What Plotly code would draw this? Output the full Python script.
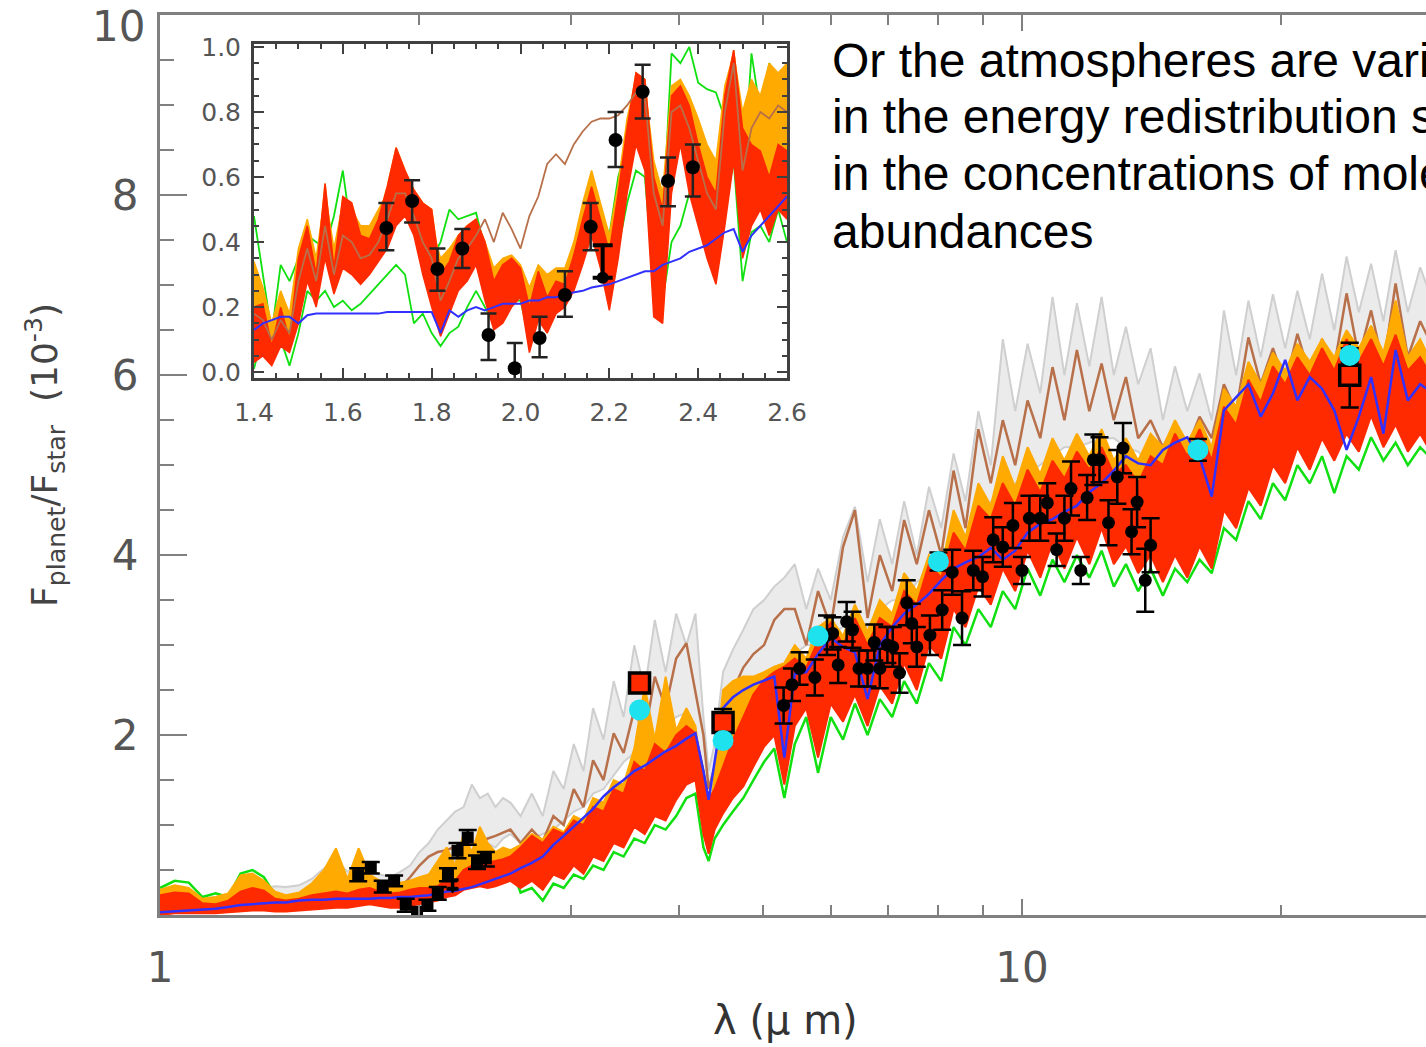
import plotly.graph_objects as go

# ---------------- main panel: model spectra (units of 1e-3) ----------------
wl = [1.00, 1.04, 1.08, 1.12, 1.16, 1.20, 1.24, 1.28, 1.32, 1.36,
      1.40, 1.45, 1.50, 1.55, 1.60, 1.65, 1.70, 1.75, 1.80, 1.85,
      1.90, 1.95, 2.00, 2.05, 2.10, 2.15, 2.20, 2.25, 2.30, 2.35,
      2.40, 2.45, 2.50, 2.55,
      2.62, 2.70, 2.78, 2.86, 2.94, 3.02, 3.10, 3.18, 3.27, 3.36,
      3.45, 3.55, 3.65, 3.75, 3.86, 3.97, 4.08, 4.18, 4.27, 4.33,
      4.40, 4.50, 4.62, 4.75, 4.88, 5.02, 5.16, 5.30,
      5.45, 5.62, 5.80, 6.00, 6.20, 6.40, 6.62, 6.84, 7.07, 7.30,
      7.55, 7.80, 8.06, 8.33, 8.60, 8.90, 9.20, 9.50, 9.82, 10.15,
      10.50, 10.85, 11.20, 11.58, 11.97, 12.37, 12.78, 13.20, 13.64, 14.10,
      14.57, 15.05, 15.55, 16.07, 16.60, 17.15, 17.72, 18.31, 18.92, 19.55,
      20.20, 20.87, 21.57, 22.29, 23.03, 23.80, 24.59, 25.41, 26.26, 27.13,
      28.03, 28.97, 30.00]

gray_hi = [0.20, 0.26, 0.24, 0.18, 0.20, 0.22, 0.30, 0.32, 0.30, 0.32,
           0.31, 0.33, 0.40, 0.52, 0.62, 0.48, 0.55, 0.50, 0.45, 0.42,
           0.48, 0.55, 0.70, 0.80, 0.95, 1.05, 1.15, 1.20, 1.45, 1.30,
           1.35, 1.20, 1.30, 1.25,
           1.10, 1.35, 1.10, 1.60, 1.40, 1.90, 1.60, 2.30, 1.95, 2.60,
           2.20, 3.00, 2.50, 3.28, 2.70, 3.35, 3.00, 3.35, 2.20, 1.60,
           1.90, 2.70, 2.95, 3.17, 3.40, 3.50, 3.65, 3.75,
           3.90, 3.40, 3.85, 3.50, 4.20, 4.54, 3.70, 4.40, 3.90, 4.60,
           4.00, 4.76, 4.30, 5.13, 4.60, 5.60, 5.00, 6.40, 5.60, 6.35,
           5.80, 6.87, 6.00, 6.80, 6.10, 6.87, 6.00, 6.54, 5.90, 6.30,
           5.50, 6.10, 5.60, 6.02, 5.50, 6.72, 6.00, 6.83, 6.20, 6.90,
           6.30, 6.94, 6.40, 7.13, 6.50, 7.32, 6.70, 7.24, 6.60, 7.39,
           6.70, 7.20, 6.80]

gray_lo = [0.10, 0.14, 0.12, 0.08, 0.10, 0.12, 0.18, 0.20, 0.18, 0.18,
           0.18, 0.20, 0.22, 0.25, 0.28, 0.26, 0.28, 0.30, 0.28, 0.26,
           0.28, 0.30, 0.35, 0.40, 0.50, 0.55, 0.60, 0.65, 0.70, 0.75,
           0.80, 0.75, 0.85, 0.90,
           0.80, 0.85, 0.90, 0.95, 1.05, 1.15, 1.20, 1.35, 1.40, 1.55,
           1.70, 1.80, 1.95, 2.00, 2.10, 2.20, 2.25, 2.00, 1.60, 1.30,
           1.50, 1.90, 2.10, 2.30, 2.40, 2.50, 2.60, 2.70,
           2.90, 3.00, 3.00, 3.10, 3.20, 3.30, 3.20, 3.40, 3.50, 3.50,
           3.70, 3.80, 3.95, 4.10, 4.20, 4.40, 4.60, 4.70, 4.80, 4.90,
           5.00, 5.10, 5.20, 5.20, 5.25, 5.30, 5.30, 5.20, 5.15, 5.00,
           4.95, 5.00, 5.05, 5.00, 5.10, 5.30, 5.40, 5.50, 5.55, 5.60,
           5.70, 5.75, 5.80, 5.85, 5.90, 5.95, 6.00, 6.00, 6.05, 6.10,
           6.05, 6.00, 5.95]

brown = [0.15, 0.20, 0.18, 0.12, 0.13, 0.16, 0.24, 0.27, 0.24, 0.20,
         0.20, 0.22, 0.25, 0.28, 0.32, 0.28, 0.32, 0.34, 0.30, 0.28,
         0.30, 0.42, 0.55, 0.65, 0.70, 0.72, 0.76, 0.80, 0.78, 0.82,
         0.85, 0.88, 0.92, 0.95,
         0.80, 0.95, 0.82, 1.10, 1.00, 1.40, 1.20, 1.72, 1.50, 2.02,
         1.80, 2.28, 2.00, 2.65, 2.30, 2.85, 3.02, 2.50, 2.00, 1.40,
         1.65, 2.25, 2.50, 2.75, 2.90, 3.00, 3.28, 3.40,
         3.40, 3.00, 3.60, 3.20, 4.09, 4.50, 3.30, 4.00, 3.60, 4.39,
         3.90, 4.50, 4.00, 4.94, 4.30, 5.40, 4.80, 5.50, 5.00, 5.72,
         5.30, 6.09, 5.50, 6.28, 5.60, 6.13, 5.50, 5.98, 5.30, 5.50,
         5.20, 5.45, 5.20, 5.54, 5.30, 5.90, 5.60, 6.42, 5.90, 6.30,
         5.90, 6.46, 6.00, 6.40, 6.10, 6.91, 6.20, 6.72, 6.10, 7.02,
         6.20, 6.60, 6.30]

orange = [0.28, 0.33, 0.30, 0.18, 0.20, 0.24, 0.44, 0.46, 0.38, 0.26,
          0.22, 0.25, 0.35, 0.50, 0.74, 0.40, 0.74, 0.45, 0.38, 0.32,
          0.36, 0.38, 0.42, 0.45, 0.60, 0.75, 0.55, 0.90, 0.70, 0.98,
          0.80, 0.70, 0.75, 0.72,
          0.78, 0.90, 0.84, 0.98, 0.92, 1.10, 1.05, 1.30, 1.25, 1.50,
          1.45, 1.85, 2.54, 1.95, 2.65, 2.05, 2.30, 2.10, 1.40, 0.85,
          1.60, 2.50, 2.60, 2.65, 2.65, 2.70, 2.76, 2.80,
          3.00, 2.85, 3.20, 3.30, 3.10, 3.45, 3.15, 3.50, 3.35, 3.80,
          3.60, 4.00, 3.85, 4.50, 4.20, 4.80, 4.55, 5.10, 4.75, 5.20,
          4.90, 5.30, 5.05, 5.35, 5.10, 5.40, 5.05, 5.30, 5.05, 5.35,
          5.20, 5.50, 5.25, 5.50, 5.20, 5.85, 5.65, 6.15, 5.90, 6.25,
          6.05, 6.35, 6.15, 6.40, 6.20, 6.50, 6.30, 6.55, 6.25, 6.83,
          6.20, 6.40, 6.10]

red_hi = [0.22, 0.25, 0.24, 0.13, 0.12, 0.16, 0.26, 0.30, 0.27, 0.18,
          0.16, 0.18, 0.22, 0.24, 0.26, 0.24, 0.28, 0.30, 0.26, 0.24,
          0.25, 0.28, 0.30, 0.30, 0.32, 0.40, 0.38, 0.50, 0.55, 0.60,
          0.58, 0.60, 0.62, 0.65,
          0.75, 0.88, 0.80, 0.95, 0.90, 1.05, 1.00, 1.20, 1.15, 1.40,
          1.35, 1.70, 1.60, 1.90, 1.80, 2.00, 2.10, 2.02, 1.60, 1.28,
          1.40, 1.65, 1.95, 2.20, 2.45, 2.61, 2.70, 2.76,
          2.85, 2.75, 3.05, 3.25, 3.00, 3.30, 3.00, 3.30, 3.20, 3.60,
          3.45, 3.90, 3.75, 4.25, 4.05, 4.55, 4.40, 4.80, 4.55, 4.95,
          4.70, 5.05, 4.85, 5.15, 4.95, 5.20, 4.90, 5.00, 4.80, 5.10,
          5.00, 5.35, 5.10, 5.40, 5.05, 5.65, 5.45, 5.95, 5.70, 6.10,
          5.90, 6.20, 6.00, 6.30, 6.05, 6.40, 6.15, 6.40, 6.10, 6.45,
          6.05, 6.20, 5.95]

red_lo = [0.00, 0.02, 0.02, 0.02, 0.02, 0.03, 0.04, 0.05, 0.05, 0.04,
          0.04, 0.05, 0.06, 0.07, 0.08, 0.08, 0.10, 0.12, 0.10, 0.08,
          0.08, 0.10, 0.12, 0.14, 0.16, 0.20, 0.22, 0.28, 0.30, 0.32,
          0.30, 0.32, 0.35, 0.38,
          0.30, 0.38, 0.28, 0.45, 0.40, 0.55, 0.46, 0.65, 0.60, 0.80,
          0.75, 0.98, 0.90, 1.10, 1.05, 1.28, 1.45, 1.50, 0.90, 0.68,
          0.95, 1.13, 1.30, 1.43, 1.65, 1.87, 2.00, 1.45,
          2.10, 2.30, 1.75, 2.35, 2.15, 2.45, 2.10, 2.55, 2.35, 2.80,
          2.50, 3.00, 2.85, 3.40, 3.20, 3.65, 3.45, 3.85, 3.60, 4.05,
          3.75, 4.15, 3.85, 4.20, 3.90, 4.30, 3.90, 4.10, 3.80, 4.00,
          3.70, 4.00, 3.75, 4.10, 3.85, 4.50, 4.30, 4.75, 4.55, 5.00,
          4.80, 5.20, 4.95, 5.30, 5.05, 5.35, 5.15, 5.55, 5.20, 5.45,
          5.15, 5.35, 5.10]

green = [0.30, 0.38, 0.36, 0.20, 0.24, 0.20, 0.46, 0.50, 0.42, 0.22,
         0.20, 0.22, 0.26, 0.30, 0.32, 0.28, 0.32, 0.34, 0.30, 0.26,
         0.28, 0.30, 0.32, 0.34, 0.40, 0.48, 0.44, 0.55, 0.52, 0.60,
         0.55, 0.50, 0.52, 0.55,
         0.25, 0.30, 0.16, 0.35, 0.30, 0.45, 0.40, 0.55, 0.50, 0.70,
         0.65, 0.85, 0.80, 1.00, 0.95, 1.10, 1.30, 1.35, 0.75, 0.60,
         0.85, 1.00, 1.15, 1.30, 1.50, 1.70, 1.85, 1.30,
         1.90, 2.20, 1.58, 2.20, 1.95, 2.35, 2.00, 2.40, 2.20, 2.60,
         2.35, 2.80, 2.60, 3.20, 3.00, 3.40, 3.20, 3.60, 3.40, 3.85,
         3.55, 3.95, 3.70, 4.00, 3.75, 4.05, 3.65, 3.90, 3.60, 3.85,
         3.55, 3.85, 3.70, 3.95, 3.80, 4.30, 4.17, 4.60, 4.40, 4.80,
         4.61, 5.00, 4.80, 5.10, 4.69, 5.10, 4.95, 5.31, 5.05, 5.25,
         5.00, 5.20, 5.05]

blue = [0.03, 0.04, 0.05, 0.06, 0.07, 0.09, 0.11, 0.12, 0.13, 0.14,
        0.14, 0.16, 0.17, 0.17, 0.18, 0.18, 0.18, 0.18, 0.19, 0.19,
        0.20, 0.20, 0.21, 0.22, 0.24, 0.26, 0.27, 0.29, 0.31, 0.34,
        0.37, 0.40, 0.43, 0.46,
        0.52, 0.58, 0.65, 0.78, 0.88, 0.98, 1.08, 1.18, 1.32, 1.42,
        1.50, 1.60, 1.66, 1.74, 1.82, 1.88, 1.96, 2.02, 1.60, 1.28,
        1.70, 2.30, 2.42, 2.50, 2.56, 2.61, 2.65, 1.75,
        2.68, 2.70, 2.90, 3.08, 2.98, 2.92, 2.40, 3.00, 3.20, 3.35,
        3.45, 3.57, 3.72, 3.85, 3.92, 3.98, 4.08, 3.95, 4.05, 4.25,
        4.35, 4.40, 4.48, 4.55, 4.70, 4.80, 4.94, 5.10, 5.02, 5.00,
        5.17, 5.25, 5.31, 5.09, 4.65, 5.61, 5.75, 5.90, 5.54, 5.80,
        6.17, 5.72, 5.98, 5.85, 5.61, 5.17, 5.54, 5.98, 5.35, 6.28,
        5.72, 5.90, 5.80]

# ---------------- observations ----------------
# ground-based near-IR photometry / spectrum
nir_wl = [1.698, 1.756, 1.813, 1.869, 1.928, 1.987, 2.043, 2.100,
          2.158, 2.214, 2.275, 2.332, 2.388]
nir_f = [0.443, 0.526, 0.317, 0.380, 0.114, 0.012, 0.105, 0.237,
         0.447, 0.714, 0.862, 0.588, 0.630]
nir_up = [0.077, 0.064, 0.063, 0.060, 0.066, 0.078, 0.065, 0.073,
          0.073, 0.086, 0.083, 0.072, 0.070]
nir_dn = [0.068, 0.066, 0.067, 0.060, 0.077, 0.050, 0.059, 0.067,
          0.072, 0.083, 0.082, 0.078, 0.090]
# upper limit
lim_wl = [2.185]
lim_f = [0.29]
lim_bar = [0.10]

# mid-IR spectrum
irs_wl = [5.29, 5.41, 5.52, 5.75, 5.94, 6.03, 6.12, 6.26, 6.36, 6.47,
          6.62, 6.74, 6.84, 6.98, 7.08, 7.21, 7.35, 7.45, 7.55, 7.82,
          8.08, 8.30, 8.52, 8.78, 9.00, 9.26, 9.50, 9.76, 10.0, 10.2,
          10.5, 10.7, 10.97, 11.2, 11.4, 11.7, 11.9, 12.1, 12.3, 12.6,
          12.9, 13.1, 13.4, 13.6, 13.9, 14.1]
irs_f = [2.33, 2.56, 2.74, 2.64, 3.11, 3.13, 2.78, 3.26, 3.17, 2.74,
         2.74, 3.03, 2.74, 3.00, 2.98, 2.69, 3.47, 3.24, 2.98, 3.11,
         3.39, 3.81, 3.30, 3.83, 3.76, 4.17, 4.09, 4.33, 3.83, 4.41,
         4.41, 4.58, 4.06, 4.41, 4.74, 3.83, 4.64, 5.06, 5.06, 4.36,
         4.87, 5.19, 4.26, 4.59, 3.72, 4.11]
irs_err = [0.20, 0.18, 0.18, 0.20, 0.22, 0.18, 0.20, 0.22, 0.20, 0.20,
           0.20, 0.20, 0.22, 0.20, 0.22, 0.22, 0.25, 0.22, 0.22, 0.22,
           0.22, 0.25, 0.30, 0.22, 0.22, 0.25, 0.22, 0.25, 0.15, 0.25,
           0.25, 0.22, 0.18, 0.25, 0.30, 0.15, 0.25, 0.28, 0.25, 0.25,
           0.30, 0.28, 0.25, 0.28, 0.35, 0.30]

# broadband eclipse depths
phot_wl = [3.6, 4.5, 24.0]
phot_f = [2.58, 2.14, 6.00]
phot_err = [0.10, 0.15, 0.36]

cyan_wl = [3.6, 4.5, 5.8, 8.0, 16.0, 24.0]
cyan_f = [2.28, 1.94, 3.10, 3.93, 5.17, 6.22]
cyan_err = [0.0, 0.0, 0.0, 0.10, 0.12, 0.08]

# ---------------- inset: 1.4-2.6 micron zoom ----------------
iwl = [1.40, 1.42, 1.44, 1.46, 1.48, 1.50, 1.52, 1.54, 1.56, 1.58,
       1.60, 1.62, 1.64, 1.66, 1.68, 1.70, 1.72, 1.74, 1.76, 1.78,
       1.80, 1.82, 1.84, 1.86, 1.88, 1.90, 1.92, 1.94, 1.96, 1.98,
       2.00, 2.02, 2.04, 2.06, 2.08, 2.10, 2.12, 2.14, 2.16, 2.18,
       2.20, 2.22, 2.24, 2.26, 2.28, 2.30, 2.32, 2.34, 2.36, 2.38,
       2.40, 2.42, 2.44, 2.46, 2.48, 2.50, 2.52, 2.54, 2.56, 2.58,
       2.60]
i_red_hi = [0.20, 0.21, 0.08, 0.20, 0.10, 0.35, 0.45, 0.30, 0.58, 0.32,
            0.54, 0.52, 0.42, 0.41, 0.47, 0.57, 0.69, 0.62, 0.56, 0.52,
            0.50, 0.30, 0.34, 0.42, 0.45, 0.47, 0.40, 0.28, 0.33, 0.35,
            0.32, 0.20, 0.31, 0.23, 0.28, 0.27, 0.36, 0.47, 0.57, 0.47,
            0.37, 0.55, 0.75, 0.92, 0.90, 0.60, 0.50, 0.85, 0.88, 0.82,
            0.70, 0.60, 0.55, 0.85, 0.99, 0.75, 0.70, 0.68, 0.60, 0.70,
            0.68]
i_red_lo = [0.03, 0.05, 0.02, 0.08, 0.06, 0.15, 0.28, 0.20, 0.35, 0.24,
            0.32, 0.30, 0.27, 0.30, 0.34, 0.38, 0.45, 0.48, 0.42, 0.30,
            0.20, 0.11, 0.18, 0.25, 0.28, 0.33, 0.22, 0.13, 0.15, 0.20,
            0.23, 0.06, 0.16, 0.12, 0.18, 0.20, 0.25, 0.33, 0.42, 0.32,
            0.19, 0.35, 0.55, 0.70, 0.62, 0.17, 0.15, 0.55, 0.70, 0.55,
            0.45, 0.35, 0.27, 0.45, 0.65, 0.35, 0.45, 0.50, 0.42, 0.50,
            0.47]
i_orange = [0.34, 0.26, 0.15, 0.25, 0.18, 0.38, 0.47, 0.35, 0.55, 0.38,
            0.52, 0.50, 0.45, 0.45, 0.50, 0.55, 0.62, 0.58, 0.52, 0.48,
            0.45, 0.35, 0.38, 0.42, 0.45, 0.46, 0.40, 0.32, 0.35, 0.36,
            0.33, 0.26, 0.33, 0.30, 0.32, 0.32, 0.40, 0.52, 0.62, 0.52,
            0.42, 0.58, 0.78, 0.90, 0.88, 0.65, 0.55, 0.88, 0.90, 0.85,
            0.78, 0.70, 0.65, 0.88, 0.98, 0.80, 0.90, 0.85, 0.95, 0.92,
            0.95]
i_green_hi = [0.48, 0.30, 0.12, 0.33, 0.28, 0.35, 0.42, 0.40, 0.38, 0.48,
              0.62, 0.42, 0.38, 0.38, 0.45, 0.55, 0.63, 0.55, 0.45, 0.42,
              0.35, 0.40, 0.50, 0.47, 0.48, 0.49, 0.38, 0.30, 0.28, 0.30,
              0.27, 0.20, 0.30, 0.27, 0.30, 0.30, 0.38, 0.50, 0.58, 0.50,
              0.42, 0.60, 0.70, 0.78, 0.65, 0.55, 0.45, 0.98, 0.95, 1.00,
              0.89, 0.87, 0.86, 0.78, 0.98, 0.55, 0.98, 0.80, 0.95, 0.90,
              0.80]
i_green_lo = [0.01, 0.12, 0.03, 0.10, 0.02, 0.12, 0.25, 0.22, 0.25, 0.20,
              0.22, 0.19, 0.21, 0.24, 0.27, 0.30, 0.33, 0.30, 0.15, 0.18,
              0.12, 0.08, 0.12, 0.14, 0.20, 0.25, 0.20, 0.15, 0.18, 0.22,
              0.22, 0.10, 0.18, 0.15, 0.20, 0.22, 0.28, 0.36, 0.44, 0.35,
              0.25, 0.38, 0.52, 0.62, 0.60, 0.28, 0.22, 0.40, 0.45, 0.55,
              0.60, 0.55, 0.34, 0.50, 0.65, 0.28, 0.43, 0.45, 0.40, 0.50,
              0.40]
i_brown = [0.18, 0.16, 0.10, 0.16, 0.12, 0.28, 0.38, 0.28, 0.45, 0.30,
           0.42, 0.40, 0.35, 0.36, 0.40, 0.47, 0.55, 0.55, 0.48, 0.40,
           0.35, 0.22, 0.28, 0.35, 0.38, 0.42, 0.47, 0.40, 0.49, 0.44,
           0.38, 0.48, 0.54, 0.64, 0.67, 0.64, 0.70, 0.74, 0.77, 0.78,
           0.78, 0.79, 0.82, 0.86, 0.85, 0.55, 0.45, 0.80, 0.82, 0.75,
           0.65, 0.55, 0.50, 0.80, 0.95, 0.62, 0.75, 0.80, 0.78, 0.82,
           0.80]
i_blue = [0.13, 0.15, 0.16, 0.17, 0.17, 0.15, 0.175, 0.18, 0.18, 0.18,
          0.18, 0.18, 0.18, 0.18, 0.18, 0.185, 0.185, 0.185, 0.185, 0.185,
          0.185, 0.12, 0.19, 0.17, 0.19, 0.20, 0.19, 0.20, 0.21, 0.21,
          0.21, 0.22, 0.22, 0.23, 0.23, 0.24, 0.245, 0.25, 0.26, 0.265,
          0.27, 0.28, 0.29, 0.30, 0.31, 0.31, 0.33, 0.34, 0.35, 0.37,
          0.38, 0.39, 0.41, 0.43, 0.44, 0.37, 0.42, 0.45, 0.48, 0.51,
          0.54]

# ---------------- styling ----------------
C_GRAY = "#cfcfcf"
C_GRAY_FILL = "#ebebeb"
C_BROWN = "#b8704a"
C_ORANGE = "#ffaa00"
C_RED = "#ff2a00"
C_GREEN = "#10e010"
C_BLUE = "#3030ff"
C_CYAN = "#1ee3ef"
AX_MAIN = "#808080"
AX_INSET = "#404040"
TXT = "#555555"
FONT_AX = "DejaVu Sans"

fig = go.Figure()


def line(x, y, color, width, xa="x", ya="y"):
    fig.add_trace(go.Scatter(x=x, y=y, mode="lines", xaxis=xa, yaxis=ya,
                             line=dict(color=color, width=width),
                             hoverinfo="skip", showlegend=False))


def band(x, lo, hi, color, fillcolor, width, xa="x", ya="y"):
    fig.add_trace(go.Scatter(x=x, y=lo, mode="lines", xaxis=xa, yaxis=ya,
                             line=dict(color=color, width=width),
                             hoverinfo="skip", showlegend=False))
    fig.add_trace(go.Scatter(x=x, y=hi, mode="lines", xaxis=xa, yaxis=ya,
                             line=dict(color=color, width=width),
                             fill="tonexty", fillcolor=fillcolor,
                             hoverinfo="skip", showlegend=False))


# main panel models
band(wl, gray_lo, gray_hi, C_GRAY, C_GRAY_FILL, 2)
line(wl, brown, C_BROWN, 2.5)
line(wl, green, C_GREEN, 2.5)
band(wl, red_hi, orange, C_ORANGE, C_ORANGE, 2)
band(wl, red_lo, red_hi, C_RED, C_RED, 2)
line(wl, blue, C_BLUE, 2.5)

# main panel observations
err_style = dict(type="data", color="black", thickness=2.5, width=9)
fig.add_trace(go.Scatter(
    x=irs_wl, y=irs_f, mode="markers", showlegend=False,
    marker=dict(color="black", size=13),
    error_y=dict(array=irs_err, **err_style)))
fig.add_trace(go.Scatter(
    x=nir_wl, y=nir_f, mode="markers", showlegend=False,
    marker=dict(color="black", size=12, symbol="square"),
    error_y=dict(array=nir_up, arrayminus=nir_dn, **err_style)))
fig.add_trace(go.Scatter(
    x=lim_wl, y=lim_f, mode="markers", showlegend=False,
    marker=dict(color="black", size=9, symbol="triangle-down"),
    error_y=dict(array=lim_bar, arrayminus=[0], type="data", color="black",
                 thickness=3.5, width=6)))
fig.add_trace(go.Scatter(
    x=phot_wl, y=phot_f, mode="markers", showlegend=False,
    marker=dict(color=C_RED, size=20, symbol="square",
                line=dict(color="black", width=3.5)),
    error_y=dict(array=phot_err, **err_style)))
fig.add_trace(go.Scatter(
    x=cyan_wl, y=cyan_f, mode="markers", showlegend=False,
    marker=dict(color=C_CYAN, size=21),
    error_y=dict(array=cyan_err, **err_style)))

# inset models
line(iwl, i_green_hi, C_GREEN, 1.8, "x2", "y2")
line(iwl, i_green_lo, C_GREEN, 1.8, "x2", "y2")
band(iwl, i_red_hi, i_orange, C_ORANGE, C_ORANGE, 1.5, "x2", "y2")
band(iwl, i_red_lo, i_red_hi, C_RED, C_RED, 1.5, "x2", "y2")
line(iwl, i_brown, C_BROWN, 1.8, "x2", "y2")
line(iwl, i_blue, C_BLUE, 2, "x2", "y2")

# inset observations
fig.add_trace(go.Scatter(
    x=nir_wl, y=nir_f, mode="markers", xaxis="x2", yaxis="y2", showlegend=False,
    marker=dict(color="black", size=14),
    error_y=dict(array=nir_up, arrayminus=nir_dn, type="data",
                 color="#222222", thickness=2.5, width=8)))
fig.add_trace(go.Scatter(
    x=lim_wl, y=lim_f, mode="markers", xaxis="x2", yaxis="y2", showlegend=False,
    marker=dict(color="black", size=12),
    error_y=dict(array=lim_bar, arrayminus=[0], type="data",
                 color="black", thickness=4, width=10)))

# ---------------- axes ----------------
W, H = 1426, 1047
ML, MR, MT, MB = 160, 0, 15, 132
PW, PH = W - ML - MR, H - MT - MB


def px_x(px):
    return (px - ML) / PW


def px_y(py):
    return (H - MB - py) / PH


tick_font = dict(family=FONT_AX, size=42, color=TXT)
inset_font = dict(family=FONT_AX, size=25, color=TXT)

fig.update_layout(
    width=W, height=H,
    margin=dict(l=ML, r=MR, t=MT, b=MB, pad=0, autoexpand=False),
    paper_bgcolor="white", plot_bgcolor="white",
    showlegend=False,
    xaxis=dict(
        type="log", range=[0, 1.4687], showgrid=False, zeroline=False,
        automargin=False,
        showline=True, linecolor=AX_MAIN, linewidth=3, mirror="ticks",
        ticks="inside", ticklen=16, tickwidth=2, tickcolor=AX_MAIN,
        tickvals=[1, 10], ticktext=["1", "10"], tickfont=tick_font,
        ticklabelstandoff=14,
        minor=dict(tickvals=[2, 3, 4, 5, 6, 7, 8, 9, 20, 30], ticks="inside",
                   ticklen=10, tickwidth=2, tickcolor=AX_MAIN, showgrid=False),
    ),
    yaxis=dict(
        range=[0, 10.004], showgrid=False, zeroline=False, automargin=False,
        showline=True, linecolor=AX_MAIN, linewidth=3, mirror=False,
        ticks="inside", ticklen=27, tickwidth=2, tickcolor=AX_MAIN,
        tickvals=[2, 4, 6, 8, 10], ticktext=["2", "4", "6", "8", ""],
        tickfont=tick_font, ticklabelstandoff=10,
        minor=dict(dtick=0.5, tick0=0, ticks="inside", ticklen=14,
                   tickwidth=2, tickcolor=AX_MAIN, showgrid=False),
    ),
    yaxis3=dict(
        overlaying="y", side="right", anchor="x", range=[0, 10.004],
        automargin=False,
        showgrid=False, zeroline=False, showline=False, showticklabels=False,
        ticks="inside", ticklen=16, tickwidth=2, tickcolor=AX_MAIN,
        tickvals=[2, 4, 6, 8],
        minor=dict(dtick=0.5, tick0=0, ticks="inside", ticklen=5,
                   tickwidth=2, tickcolor=AX_MAIN, showgrid=False),
    ),
    xaxis2=dict(
        domain=[px_x(254), px_x(787)], anchor="y2", range=[1.4, 2.6],
        automargin=False,
        showgrid=False, zeroline=False, showline=True, linecolor=AX_INSET,
        linewidth=3, mirror="ticks", ticks="inside", ticklen=10, tickwidth=2,
        tickcolor=AX_INSET, tick0=1.4, dtick=0.2, tickformat=".1f",
        tickfont=inset_font, ticklabelstandoff=10,
        minor=dict(dtick=0.05, tick0=1.4, ticks="inside", ticklen=5,
                   tickwidth=2, tickcolor=AX_INSET, showgrid=False),
    ),
    yaxis2=dict(
        domain=[px_y(378), px_y(44)], anchor="x2", range=[-0.018, 1.009],
        automargin=False,
        showgrid=False, zeroline=False, showline=True, linecolor=AX_INSET,
        linewidth=3, mirror="ticks", ticks="inside", ticklen=10, tickwidth=2,
        tickcolor=AX_INSET, tick0=0, dtick=0.2, tickformat=".1f",
        tickfont=inset_font, ticklabelstandoff=5,
        minor=dict(dtick=0.05, tick0=0, ticks="inside", ticklen=5,
                   tickwidth=2, tickcolor=AX_INSET, showgrid=False),
    ),
)

# top y label sits right at the frame corner, so it is placed explicitly
fig.add_annotation(
    text="10", xref="paper", yref="paper", x=px_x(147), y=px_y(26),
    xanchor="right", yanchor="middle", showarrow=False, font=tick_font)

# axis titles
fig.add_annotation(
    text="λ (μ m)", xref="paper", yref="paper",
    x=px_x(785), y=px_y(1020), xanchor="center", yanchor="middle",
    showarrow=False, font=dict(family=FONT_AX, size=40, color="#333333"))
fig.add_annotation(
    text="F<sub>planet</sub>/F<sub>star</sub>  (10<sup>-3</sup>)",
    xref="paper", yref="paper", x=px_x(45), y=px_y(455),
    xanchor="center", yanchor="middle", textangle=-90, showarrow=False,
    font=dict(family=FONT_AX, size=36, color="#444444"))

# explanatory text
notes = ["Or the atmospheres are varied",
         "in the energy redistribution scheme",
         "in the concentrations of molecular",
         "abundances"]
for i, t in enumerate(notes):
    fig.add_annotation(
        text=t, xref="paper", yref="paper", x=px_x(830), y=px_y(60 + 57 * i),
        xanchor="left", yanchor="middle", showarrow=False,
        font=dict(family="Liberation Sans", size=48, color="black"))

fig.write_html("out.html")
